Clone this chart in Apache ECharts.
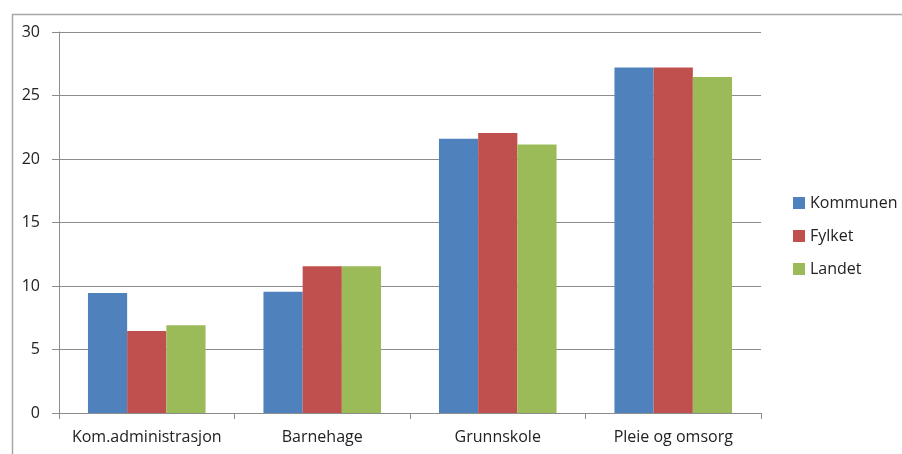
<!DOCTYPE html>
<html>
<head>
<meta charset="utf-8">
<script src="https://cdn.jsdelivr.net/npm/echarts@6/dist/echarts.min.js"></script>
<style>html,body{margin:0;padding:0;background:#fff;}#c{width:902px;height:454px;}</style>
</head>
<body>
<div id="c"></div>
<script>
const categories = ['Kom.administrasjon', 'Barnehage', 'Grunnskole', 'Pleie og omsorg'];
const kommunen = [9.45, 9.55, 21.6, 27.2];
const fylket = [6.45, 11.55, 22.05, 27.2];
const landet = [6.9, 11.55, 21.15, 26.45];
const seriesNames = ['Kommunen', 'Fylket', 'Landet'];
const colors = ['#4F81BD', '#C0504D', '#9BBB59'];

const font = 'Open Sans';
const chart = echarts.init(document.getElementById('c'));
chart.setOption({
  animation: false,
  color: colors,
  textStyle: { fontFamily: font },
  graphic: [{
    type: 'rect', left: 10, top: 12, silent: true,
    shape: { width: 1000, height: 1000 },
    style: { fill: 'none', stroke: '#a6a6a6', lineWidth: 1.5 }
  }],
  grid: { left: 59, right: 141, top: 32, bottom: 41 },
  legend: {
    orient: 'vertical', left: 788, top: 190,
    itemWidth: 12, itemHeight: 12, itemGap: 17, icon: 'rect',
    textStyle: { fontFamily: font, fontSize: 16, color: '#222' },
    data: seriesNames
  },
  xAxis: {
    type: 'category', data: categories,
    axisLine: { lineStyle: { color: '#8c8c8c', width: 1 } },
    axisTick: { show: true, length: 6, lineStyle: { color: '#8c8c8c' } },
    axisLabel: { interval: 0, margin: 16, fontSize: 16, color: '#222', fontFamily: font }
  },
  yAxis: {
    type: 'value', min: 0, max: 30, interval: 5,
    axisLine: { show: true, lineStyle: { color: '#8c8c8c', width: 1 } },
    axisTick: { show: true, length: 7, lineStyle: { color: '#8c8c8c' } },
    axisLabel: { margin: 19, fontSize: 16, color: '#222', fontFamily: font },
    splitLine: { lineStyle: { color: '#8c8c8c', width: 1 } }
  },
  series: [
    { name: seriesNames[0], type: 'bar', data: kommunen, barGap: '0%', barCategoryGap: '33%' },
    { name: seriesNames[1], type: 'bar', data: fylket, barGap: '0%', barCategoryGap: '33%' },
    { name: seriesNames[2], type: 'bar', data: landet, barGap: '0%', barCategoryGap: '33%' }
  ]
});
</script>
</body>
</html>
